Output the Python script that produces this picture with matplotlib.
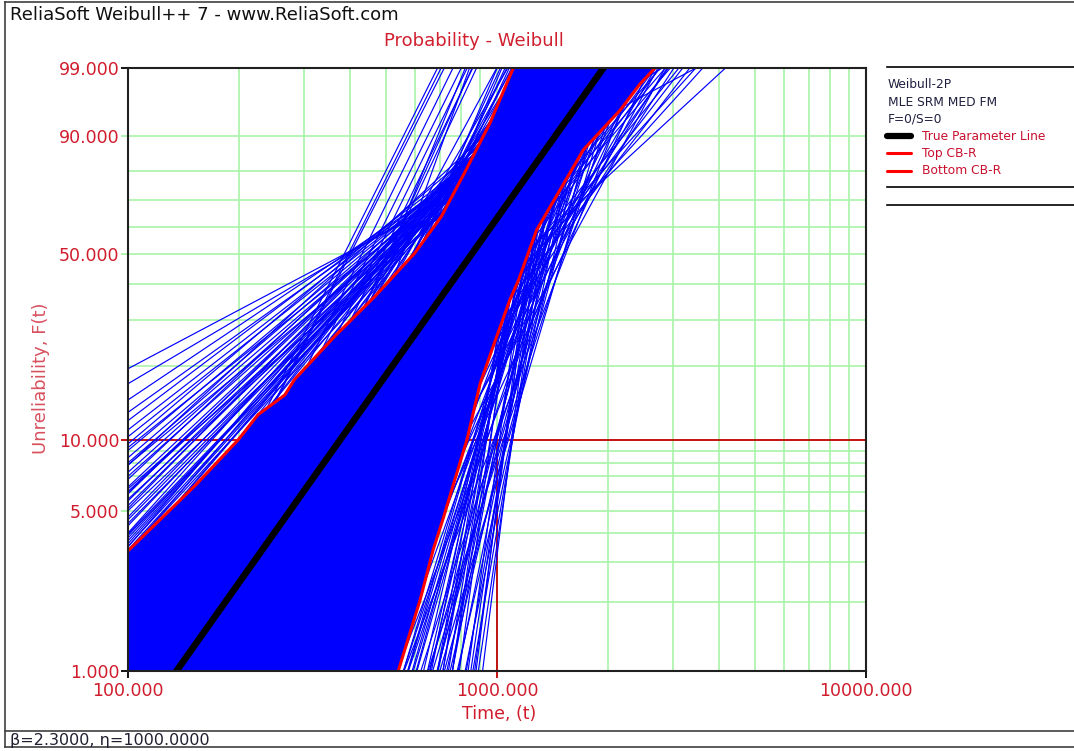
import numpy as np
import matplotlib
matplotlib.use("Agg")
import matplotlib.pyplot as plt
from matplotlib.lines import Line2D
from matplotlib.ticker import NullLocator
from matplotlib import font_manager

# True Weibull parameters
true_beta = 2.3
true_eta = 1000.0

# Fitted (beta, eta) of the simulated data sets lying outside the bounds
sim_beta = [0.862, 0.962, 1.091, 1.158, 1.230, 1.264, 1.291, 1.378, 1.367, 1.395,
            1.507, 1.461, 1.532, 1.528, 1.595, 1.597, 1.669, 1.679, 1.714, 1.805, 1.787,
            3.246, 3.268, 3.221, 3.291, 3.330, 3.366, 3.471, 3.325,
            1.779, 1.685, 1.658, 1.544, 1.518, 1.421, 1.827, 2.0, 1.9, 2.1,
            1.65, 1.6, 1.55, 1.5, 1.45, 1.4, 1.35, 1.3,
            1.9, 1.9, 1.9, 1.76, 1.8, 1.7, 1.75, 2.0, 2.0, 2.0, 2.2, 2.2, 2.4, 2.4,
            2.6, 2.6, 2.6, 2.9, 2.9, 3.2, 3.2, 3.5, 3.5, 3.5, 3.8, 3.8,
            3.0, 2.8, 3.6, 4.0, 4.5,
            13.0, 11.0, 12.0, 9.5, 8.0, 7.0, 6.0, 5.5, 5.0, 4.2, 3.5, 3.0, 2.5, 2.1, 1.8, 1.5,
            13.0, 11.0, 12.0, 9.5, 8.0, 7.0, 6.0, 5.5, 5.0, 4.2, 3.5, 3.0, 2.5, 2.1, 1.8,
            10.0, 8.5, 7.5, 6.5, 5.8, 4.8, 4.0, 3.3, 2.8, 2.3, 2.0,
            6.0, 7.0, 5.0, 4.5,
            5.7, 5.7, 5.7, 5.4, 5.4, 5.4, 4.3, 4.3, 4.3, 3.5, 3.5, 3.5,
            2.2, 2.2, 2.2, 1.9, 1.9, 1.9,
            9.0, 9.0, 10.0, 10.0, 8.0, 8.0, 7.0, 7.0, 11.0, 12.0]
sim_eta = [589, 574, 543, 549, 532, 548, 558, 528, 562, 572,
           529, 585, 565, 597, 579, 604, 585, 610, 619, 588, 626,
           431, 442, 448, 503, 525, 546, 567, 480,
           651, 677, 649, 685, 656, 692, 611, 610, 625, 600,
           640, 620, 600, 640, 610, 590, 640, 600,
           621, 600, 580, 684, 650, 660, 640, 670, 650, 630, 640, 620, 660, 640,
           676, 655, 635, 670, 650, 680, 660, 698, 680, 660, 690, 670,
           600, 620, 560, 560, 600,
           1302, 1352, 1276, 1396, 1457, 1505, 1550, 1616, 1631, 1674, 1675, 1715, 1637, 1609, 1546, 1503,
           1250, 1290, 1225, 1340, 1395, 1440, 1480, 1545, 1560, 1600, 1600, 1640, 1570, 1540, 1480,
           1200, 1300, 1350, 1400, 1450, 1500, 1520, 1550, 1560, 1500, 1450,
           1300, 1250, 1400, 1450,
           1283, 1320, 1360, 1307, 1345, 1390, 1368, 1410, 1450, 1376, 1420, 1460,
           1298, 1340, 1380, 1239, 1280, 1320,
           1150, 1190, 1130, 1170, 1180, 1230, 1220, 1270, 1150, 1160]

# Confidence bounds on reliability (time, unreliability %)
top_cb_t = [100, 152, 199, 225, 266, 283, 363, 466, 598, 706, 817, 957, 1107]
top_cb_f = [3.35, 6.4, 10.0, 12.7, 15.3, 17.7, 26.0, 36.3, 50.4, 63.8, 79.6, 92.8, 99.0]
bot_cb_t = [540, 619, 672, 714, 769, 829, 900, 975, 1084, 1143, 1280, 1482, 1713, 2154, 2440, 2680]
bot_cb_f = [1.0, 2.05, 3.4, 4.6, 6.8, 10.0, 17.0, 23.7, 35.4, 41.3, 58.8, 73.7, 86.5, 95.0, 98.0, 99.0]

# Read-off point
t_mark = 1000
f_mark = 10

x_ticks = [100, 1000, 10000]
y_ticks = [1, 5, 10, 50, 90, 99]
x_grid = [200, 300, 400, 500, 600, 700, 800, 900, 1000,
          2000, 3000, 4000, 5000, 6000, 7000, 8000, 9000]
y_grid = [2, 3, 4, 5, 6, 7, 8, 9, 20, 30, 40, 50, 60, 70, 80, 90]

W, H = 1074, 751
RED_TXT = "#d01c2c"
GRID = "#a8f4a8"


def fx(px):
    return px / W


def fy(py):
    return 1 - py / H


# Weibull probability paper: ln(-ln(1 - F))
def weibull_fwd(f):
    f = np.clip(np.asarray(f, dtype=float), 1e-4, 99.9999)
    return np.log(-np.log(1 - f / 100.0))


def weibull_inv(w):
    return 100.0 * (1 - np.exp(-np.exp(w)))


def weibull_line(beta, eta):
    w = np.linspace(-5.5, 2.2, 60)
    return eta * np.exp(w / beta), weibull_inv(w)


names = {f.name for f in font_manager.fontManager.ttflist}
if "Liberation Sans Narrow" in names:
    small_font, small_size = "Liberation Sans Narrow", 11.5
else:
    small_font, small_size = "DejaVu Sans", 8.8

fig = plt.figure(figsize=(W / 100, H / 100), dpi=100)
ax = fig.add_axes([fx(128), fy(671), (866 - 128) / W, (671 - 68) / H])
ax.set_xscale("log")
ax.set_yscale("function", functions=(weibull_fwd, weibull_inv))
ax.set_xlim(100, 10000)
ax.set_ylim(1, 99)

for xv in x_grid:
    ax.axvline(xv, color=GRID, lw=1.2, zorder=1)
for yv in y_grid:
    ax.axhline(yv, color=GRID, lw=1.2, zorder=1)

ax.plot([100, 10000], [f_mark, f_mark], color="#c00000", lw=1.3, zorder=2)
ax.plot([t_mark, t_mark], [1, f_mark], color="#c00000", lw=1.3, zorder=2)

# dense core between the bounds
poly_t = top_cb_t + bot_cb_t[::-1] + [100]
poly_f = top_cb_f + bot_cb_f[::-1] + [1.0]
ax.fill(poly_t, poly_f, color="#0000ff", lw=0, zorder=3)

for b, e in zip(sim_beta, sim_eta):
    t, f = weibull_line(b, e)
    ax.plot(t, f, color="#0000ff", lw=0.85, zorder=3)

ax.plot(top_cb_t, top_cb_f, color="#ff0000", lw=2.2, zorder=4)
ax.plot(bot_cb_t, bot_cb_f, color="#ff0000", lw=2.2, zorder=4)

t, f = weibull_line(true_beta, true_eta)
ax.plot(t, f, color="black", lw=4.8, solid_capstyle="butt", zorder=5)

for sp in ax.spines.values():
    sp.set_linewidth(1.5)
    sp.set_color("#202020")
    sp.set_zorder(6)

ax.set_xticks(x_ticks)
ax.set_xticklabels([f"{v:.3f}" for v in x_ticks])
ax.set_yticks(y_ticks)
ax.set_yticklabels([f"{v:.3f}" for v in y_ticks])
ax.xaxis.set_minor_locator(NullLocator())
ax.yaxis.set_minor_locator(NullLocator())
ax.tick_params(axis="y", direction="out", length=5, width=1.3, pad=1,
               labelcolor=RED_TXT, labelsize=12.5)
ax.tick_params(axis="x", direction="out", length=5, width=1.3, pad=3,
               labelcolor=RED_TXT, labelsize=12.5)
for tk, c in zip(ax.yaxis.get_major_ticks(),
                 ["black", GRID, "#c00000", GRID, GRID, "black"]):
    tk.tick1line.set_markeredgecolor(c)
for tk, c in zip(ax.xaxis.get_major_ticks(), ["black", "#c00000", "black"]):
    tk.tick1line.set_markeredgecolor(c)

ax.set_xlabel("Time, (t)", color=RED_TXT, fontsize=12.5, va="center")
ax.xaxis.set_label_coords((499 - 128) / 738, (671 - 714) / 603)
ax.set_ylabel("Unreliability, F(t)", color="#d8505e", fontsize=13, va="center")
ax.yaxis.set_label_coords((41 - 128) / 738, (671 - 378) / 603)

# header, title, footer
fig.text(fx(10), fy(15), "ReliaSoft Weibull++ 7 - www.ReliaSoft.com",
         fontsize=13, color="#101010", va="center", ha="left")
fig.text(fx(474), fy(41), "Probability - Weibull", fontsize=13,
         color="#d02030", va="center", ha="center")
fig.text(fx(10), fy(741), "\u03b2=2.3000, \u03b7=1000.0000", fontsize=11.5,
         color="#202030", va="center", ha="left")

# frame
frame = [([5, 5], [2, 747]), ([5, W], [2, 2]), ([5, W], [731, 731]), ([5, W], [747, 747])]
for xs, ys in frame:
    fig.add_artist(Line2D([fx(v) for v in xs], [fy(v) for v in ys],
                          transform=fig.transFigure, color="#404040", lw=1.2))

# legend panel
for py in [67, 187, 205]:
    fig.add_artist(Line2D([fx(887), fx(W)], [fy(py), fy(py)],
                          transform=fig.transFigure, color="black", lw=1.2))
for py, s in zip([85, 102, 119], ["Weibull-2P", "MLE SRM MED FM", "F=0/S=0"]):
    fig.text(fx(888), fy(py), s, fontsize=small_size, family=small_font,
             color="#202040", va="center", ha="left")
entries = [("True Parameter Line", "black", 4.5), ("Top CB-R", "#ff0000", 2.2),
           ("Bottom CB-R", "#ff0000", 2.2)]
for py, (s, c, lw) in zip([136, 153, 171], entries):
    fig.add_artist(Line2D([fx(887), fx(911)], [fy(py), fy(py)], transform=fig.transFigure,
                          color=c, lw=lw, solid_capstyle="round"))
    fig.text(fx(922), fy(py), s, fontsize=small_size, family=small_font,
             color="#c8102e", va="center", ha="left")

fig.savefig("out.png", dpi=100)
